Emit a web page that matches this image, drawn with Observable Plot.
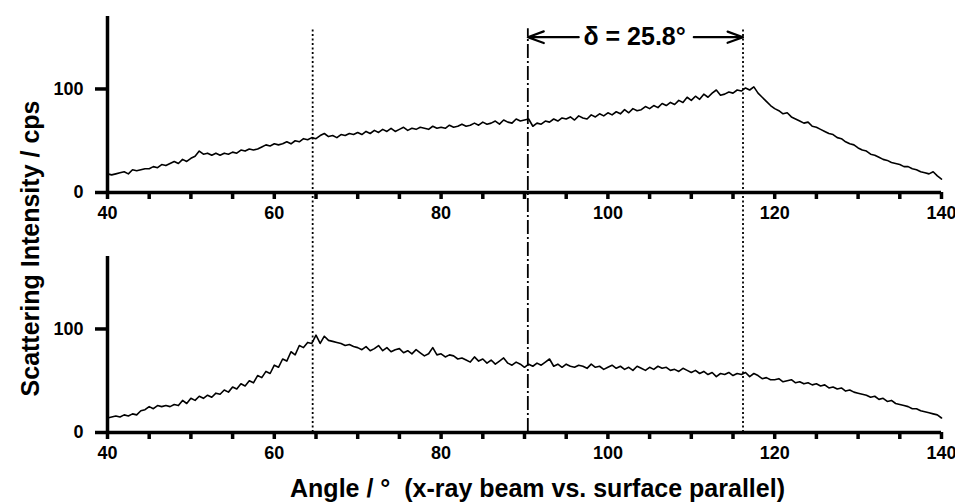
<!DOCTYPE html>
<html><head><meta charset="utf-8">
<script src="https://cdn.jsdelivr.net/npm/d3@7"></script>
<script src="https://cdn.jsdelivr.net/npm/@observablehq/plot@0.6"></script>
<style>
body{margin:0;background:#fff}
#chart svg{overflow:visible}
</style>
</head><body><div id="chart"></div>
<script>
// ---- data ----
const panels = ["top", "bottom"];
const angleStart = 40, angleStep = 0.5;
// upper panel, 40..140 deg every 0.5 deg
const topIntensity = [
  18,17,18,19,20,18,22,21,22,23,
  23,25,24,27,26,28,30,28,32,30,
  33,35,40,37,38,36,38,36,38,37,
  39,38,41,40,42,41,42,44,46,45,
  47,46,47,49,47,50,49,52,51,53,
  52,55,57,54,55,53,56,55,57,56,
  58,56,59,57,60,58,61,59,62,59,
  61,63,60,62,61,63,62,61,64,62,
  63,62,65,63,64,66,64,65,67,65,
  68,66,67,69,66,70,68,67,71,69,
  70,71,64,67,66,69,68,71,69,72,
  71,73,70,74,72,71,75,73,76,74,
  77,75,78,76,80,77,81,79,80,83,
  81,84,82,86,84,87,85,89,87,92,
  89,93,90,95,92,96,99,94,95,97,
  96,99,98,101,99,102,96,92,88,84,
  81,79,76,77,73,71,69,67,68,64,
  63,61,59,57,56,53,52,49,47,46,
  43,41,40,37,36,34,32,31,29,28,
  27,25,25,23,22,20,19,18,20,16,
  13
];
// lower panel, 40..140 deg every 0.5 deg
const bottomIntensity = [
  14,15,16,15,17,16,18,17,21,22,
  25,23,26,25,26,25,27,26,31,28,
  33,31,35,33,36,34,38,37,41,39,
  44,42,47,45,50,48,55,53,59,57,
  65,63,71,69,78,75,84,82,87,86,
  94,86,93,89,88,87,86,84,85,83,
  82,80,83,79,81,84,79,82,78,80,
  81,77,79,76,80,77,74,76,82,75,
  76,73,75,74,71,72,70,68,73,69,
  71,67,70,66,69,72,67,65,68,66,
  63,66,64,67,65,68,71,64,66,63,
  66,64,63,65,64,62,66,63,64,61,
  63,65,62,64,61,63,60,64,62,60,
  63,61,64,62,63,60,61,59,62,60,
  58,60,57,59,56,58,54,57,56,58,
  55,57,56,58,54,57,55,52,53,51,
  51,52,49,50,51,48,49,47,48,46,
  47,45,46,43,44,42,43,40,41,39,
  38,37,36,34,35,32,33,30,31,28,
  27,26,25,23,23,21,20,19,18,17,
  14
];
const xTicks = [40,45,50,55,60,65,70,75,80,85,90,95,100,105,110,115,120,125,130,135,140];
const xTickLabels = [40,60,80,100,120,140];
const yTicks = [0,100];
const dottedAngles = [64.6, 116.2];
const dashDotAngles = [90.4];
const refLineTop = 390;          // intensity units of the lower panel
const deltaArrowLeft = {from: 96.5, to: 90.4, y: 150};
const deltaArrowRight = {from: 110.3, to: 116.2, y: 150};
const deltaLabel = {text: "δ = 25.8°", x: 103.2, y: 150};
const xTitle = "Angle / °  (x-ray beam vs. surface parallel)";
const yTitle = "Scattering Intensity / cps";

// ---- build tables ----
const rows = [];
topIntensity.forEach((v, i) => rows.push({panel: "top", angle: angleStart + i * angleStep, intensity: v}));
bottomIntensity.forEach((v, i) => rows.push({panel: "bottom", angle: angleStart + i * angleStep, intensity: v}));
const dotted = dottedAngles.map(a => ({panel: "bottom", angle: a}));
const dashDot = dashDotAngles.map(a => ({panel: "bottom", angle: a}));
const xMin = 40, xMax = 140;

const FONT = "'Liberation Sans', Arial, Helvetica, sans-serif";

const chart = Plot.plot({
  width: 955, height: 504,
  marginLeft: 107, marginRight: 14, marginTop: 16, marginBottom: 71,
  facet: {marginTop: 0, marginRight: 0, marginBottom: 0, marginLeft: 0},
  x: {domain: [xMin, xMax]},
  y: {domain: [0, 170]},
  fy: {domain: panels, paddingInner: 0.266, paddingOuter: 0, axis: null},
  style: {fontFamily: FONT, fontWeight: "bold", color: "#000", background: "#fff", overflow: "visible"},
  marks: [
    // axis lines
    Plot.ruleY([0], {strokeWidth: 3.5}),
    Plot.ruleX([xMin], {strokeWidth: 3.5}),
    // ticks only (labels drawn below as text)
    Plot.axisX({ticks: xTicks, tickFormat: () => "", tickSize: 7, strokeWidth: 3.5, label: null, facetAnchor: null}),
    Plot.axisY({ticks: yTicks, tickFormat: () => "", tickSize: 12, strokeWidth: 3.5, label: null, facetAnchor: null}),
    // tick labels
    Plot.text(xTickLabels, {x: d => d, y: () => 0, text: d => String(d), dy: 21, fontSize: 18, fontWeight: "bold"}),
    Plot.text(yTicks, {x: () => xMin, y: d => d, text: d => String(d), dx: -24, textAnchor: "end", fontSize: 18, fontWeight: "bold"}),
    // data
    Plot.line(rows, {x: "angle", y: "intensity", fy: "panel", stroke: "#000", strokeWidth: 1.6}),
    // reference lines
    Plot.ruleX(dotted, {x: "angle", y1: 0, y2: refLineTop, fy: "panel", strokeWidth: 1.8, strokeDasharray: "2,2.5"}),
    Plot.ruleX(dashDot, {x: "angle", y1: 0, y2: refLineTop, fy: "panel", strokeWidth: 1.8, strokeDasharray: "14,3,2,3"}),
    // delta annotation
    Plot.arrow([{panel: "top", ...deltaArrowLeft}, {panel: "top", ...deltaArrowRight}],
      {x1: "from", x2: "to", y1: "y", y2: "y", fy: "panel", strokeWidth: 2.2, headLength: 14, headAngle: 40}),
    Plot.text([{panel: "top", ...deltaLabel}], {x: "x", y: "y", text: "text", fy: "panel", fontSize: 25, fontWeight: "bold"}),
    // axis titles
    Plot.text([{panel: "bottom"}], {fy: "panel", x: () => (xMin + xMax) / 2, y: () => 0, text: () => xTitle, dy: 56, dx: 13,
      fontSize: 25, fontWeight: "bold"}),
    Plot.text([{panel: "top"}], {fy: "panel", x: () => xMin, y: () => 0, text: () => yTitle, rotate: -90, dx: -77, dy: 56,
      fontSize: 25, fontWeight: "bold"})
  ]
});
document.getElementById("chart").appendChild(chart);
</script>
</body></html>
